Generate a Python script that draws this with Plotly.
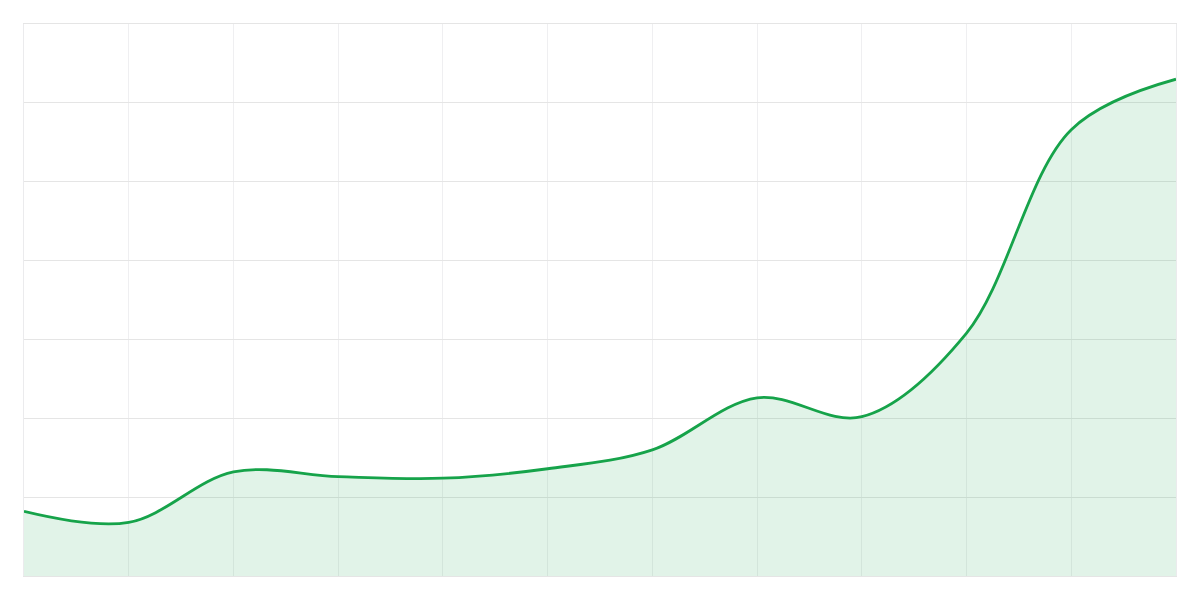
import plotly.graph_objects as go

# monthly values (no labels shown on the chart)
months = ['Jan', 'Feb', 'Mar', 'Apr', 'May', 'Jun',
          'Jul', 'Aug', 'Sep', 'Oct', 'Nov', 'Dec']
values = [41, 34, 66, 63, 62, 68, 80, 113, 101, 154, 283, 315]

fig = go.Figure()

fig.add_trace(go.Scatter(
    x=months,
    y=values,
    mode='lines',
    line=dict(color='#16a34a', width=2.8, shape='spline', smoothing=1),
    fill='tozeroy',
    fillcolor='rgba(22,163,74,0.13)',
    hoverinfo='x+y'
))

# page body has an 8px margin, so the figure is 16px smaller than the window
fig.update_layout(
    width=1184,
    height=584,
    margin=dict(l=16, r=16, t=16, b=16),
    paper_bgcolor='white',
    plot_bgcolor='white',
    showlegend=False
)

fig.update_xaxes(
    type='category',
    range=[0, len(months) - 1],
    showticklabels=False,
    showgrid=True,
    gridcolor='#efeff1',
    gridwidth=1,
    zeroline=False,
    showline=True,
    linecolor='#e5e5e5',
    linewidth=1,
    mirror=True
)

fig.update_yaxes(
    range=[0, 350],
    dtick=50,
    showticklabels=False,
    showgrid=True,
    gridcolor='#e5e5e5',
    gridwidth=1,
    zeroline=False,
    showline=True,
    linecolor='#ebebed',
    linewidth=1,
    mirror=True
)

fig.write_html("out.html")
